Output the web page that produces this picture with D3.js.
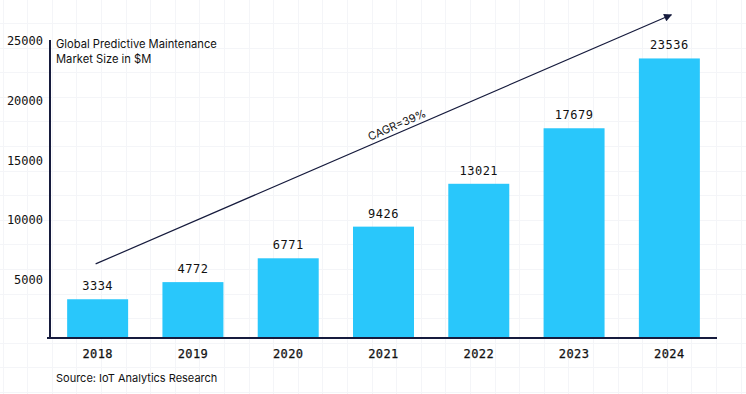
<!DOCTYPE html>
<html>
<head>
<meta charset="utf-8">
<script src="https://cdn.jsdelivr.net/npm/d3@7"></script>
<style>
  html, body { margin: 0; padding: 0; background: #fff; }
  #app { width: 746px; height: 394px; }
</style>
</head>
<body>
<div id="app"></div>
<script>
// data
const years = ["2018", "2019", "2020", "2021", "2022", "2023", "2024"]
const marketSize = [3334, 4772, 6771, 9426, 13021, 17679, 23536]
const yTicks = [5000, 10000, 15000, 20000, 25000]
const titleLines = ["Global Predictive Maintenance", "Market Size in $M"]
const sourceText = "Source: IoT Analytics Research"
const cagrText = "CAGR=39%"
// arrow endpoints in data units (from first to last year)
const arrowFrom = 6300
const arrowTo = 27200

const dimensions = {
  width: 746,
  height: 394,
  margin: { top: 40, right: 29, bottom: 56, left: 50 },
}
dimensions.boundedWidth = dimensions.width - dimensions.margin.left - dimensions.margin.right
dimensions.boundedHeight = dimensions.height - dimensions.margin.top - dimensions.margin.bottom

const navy = "#161b3d"
const barColor = "#29c7fb"
const monoFont = "'DejaVu Sans Mono', monospace"
const sansFont = "Inter, 'Noto Sans', sans-serif"

const svg = d3.select("#app").append("svg")
  .attr("width", dimensions.width)
  .attr("height", dimensions.height)

// faint graph paper background
const gridStep = 24.6
const grid = svg.append("g").attr("stroke", "#f4f5f8").attr("stroke-width", 1)
grid.selectAll("line.v")
  .data(d3.range(2.5, dimensions.width, gridStep))
  .join("line")
    .attr("class", "v")
    .attr("x1", d => Math.round(d) + 0.5).attr("x2", d => Math.round(d) + 0.5)
    .attr("y1", 0).attr("y2", dimensions.height)
grid.selectAll("line.h")
  .data(d3.range(23, dimensions.height, gridStep))
  .join("line")
    .attr("class", "h")
    .attr("y1", d => Math.round(d) + 0.5).attr("y2", d => Math.round(d) + 0.5)
    .attr("x1", 0).attr("x2", dimensions.width)

const bounds = svg.append("g")
  .attr("transform", `translate(${dimensions.margin.left},${dimensions.margin.top})`)

// scales
const xScale = d3.scaleBand()
  .domain(years)
  .range([0, dimensions.boundedWidth])
  .paddingInner(0.36)
  .paddingOuter(0.18)

const yScale = d3.scaleLinear()
  .domain([0, 25000])
  .range([dimensions.boundedHeight + 1, 1])

// bars
const rows = years.map((y, i) => ({ year: y, value: marketSize[i] }))

bounds.selectAll("rect.bar")
  .data(rows)
  .join("rect")
    .attr("class", "bar")
    .attr("x", d => xScale(d.year))
    .attr("width", xScale.bandwidth())
    .attr("y", d => yScale(d.value))
    .attr("height", d => yScale(0) - yScale(d.value))
    .attr("fill", barColor)

bounds.selectAll("text.value")
  .data(rows)
  .join("text")
    .attr("class", "value")
    .attr("x", d => xScale(d.year) + xScale.bandwidth() / 2)
    .attr("y", d => yScale(d.value) - 9)
    .attr("text-anchor", "middle")
    .attr("fill", "#111")
    .style("font-family", monoFont)
    .style("font-size", "12px")
    .style("letter-spacing", "0.5px")
    .text(d => d.value)

// axes
const xAxis = bounds.append("g")
  .attr("transform", `translate(0,${dimensions.boundedHeight})`)
  .call(d3.axisBottom(xScale).tickSize(0).tickPadding(11))
xAxis.select(".domain").attr("stroke", navy).attr("stroke-width", 2)
  .attr("d", `M-3,0H${dimensions.boundedWidth}`)
xAxis.selectAll("text")
  .attr("fill", "#111")
  .style("font-family", monoFont)
  .style("font-size", "12px")
  .style("letter-spacing", "0.4px")
  .style("stroke", "#111")
  .style("stroke-width", "0.25px")

const yAxis = bounds.append("g")
  .call(d3.axisLeft(yScale).tickValues(yTicks).tickFormat(d3.format("d")).tickSize(0).tickPadding(7))
yAxis.select(".domain").attr("stroke", navy).attr("stroke-width", 2)
  .attr("d", `M0,${dimensions.boundedHeight}V0`)
yAxis.selectAll("text")
  .attr("fill", "#111")
  .style("font-family", monoFont)
  .style("font-size", "12px")

// title
bounds.append("text")
  .attr("x", 6)
  .attr("y", 8)
  .attr("fill", "#111")
  .style("font-family", sansFont)
  .style("font-size", "11.2px")
  .selectAll("tspan")
  .data(titleLines)
  .join("tspan")
    .attr("x", 6)
    .attr("dy", (d, i) => i === 0 ? 0 : 14.5)
    .text(d => d)

// source
svg.append("text")
  .attr("x", 56)
  .attr("y", 382)
  .attr("fill", "#111")
  .style("font-family", sansFont)
  .style("font-size", "11px")
  .text(sourceText)

// CAGR arrow
svg.append("defs").append("marker")
  .attr("id", "arrowhead")
  .attr("viewBox", "0 0 10 10")
  .attr("refX", 9).attr("refY", 5)
  .attr("markerWidth", 9).attr("markerHeight", 8)
  .attr("markerUnits", "userSpaceOnUse")
  .attr("orient", "auto")
  .append("path")
    .attr("d", "M0,0L10,5L0,10Z")
    .attr("fill", navy)

const x1 = xScale(years[0]) + xScale.bandwidth() / 2 - 2
const x2 = xScale(years[years.length - 1]) + xScale.bandwidth() / 2 + 2
const y1 = yScale(arrowFrom)
const y2 = yScale(arrowTo)

bounds.append("line")
  .attr("x1", x1).attr("y1", y1)
  .attr("x2", x2).attr("y2", y2)
  .attr("stroke", navy)
  .attr("stroke-width", 1.2)
  .attr("marker-end", "url(#arrowhead)")

const angle = Math.atan2(y2 - y1, x2 - x1) * 180 / Math.PI
const tx = 350
const ty = y1 + (y2 - y1) * (tx - x1) / (x2 - x1)
bounds.append("text")
  .attr("transform", `translate(${tx},${ty}) rotate(${angle})`)
  .attr("y", -4)
  .attr("text-anchor", "middle")
  .attr("fill", "#111")
  .style("font-family", sansFont)
  .style("font-size", "11px")
  .text(cagrText)
</script>
</body>
</html>
